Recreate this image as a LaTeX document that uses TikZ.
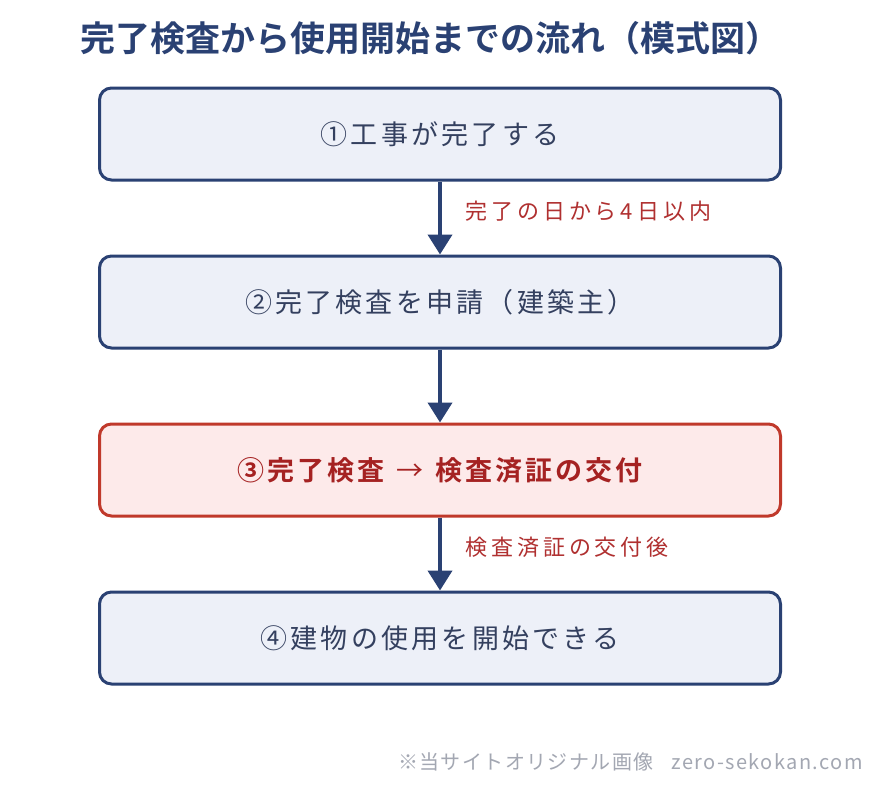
\documentclass[tikz,border=0pt]{standalone}
\usepackage{fontspec}
\setmainfont{Noto Sans CJK JP}
\newfontfamily\jpbold{Noto Sans CJK JP Bold}
\usetikzlibrary{arrows.meta}
\definecolor{navy}{HTML}{2A4173}
\definecolor{boxfill}{HTML}{EDF0F8}
\definecolor{boxtext}{HTML}{34405F}
\definecolor{redline}{HTML}{C0392B}
\definecolor{redfill}{HTML}{FDEAEA}
\definecolor{redtext}{HTML}{A52222}
\definecolor{labred}{HTML}{B03030}
\definecolor{footgray}{HTML}{A3A7B2}
\newcommand{\spaced}[1]{\addfontfeatures{LetterSpace=#1}}
\tikzset{
  stepbox/.style={draw=navy, fill=boxfill, line width=3pt, rounded corners=12pt,
    minimum width=681pt, minimum height=92pt, inner sep=0pt,
    text=boxtext, font=\fontsize{27}{31}\selectfont\spaced{12}},
  keybox/.style={stepbox, draw=redline, fill=redfill, text=redtext,
    font=\jpbold\fontsize{27}{31}\selectfont\spaced{11}},
  flow/.style={draw=navy, line width=4pt, -{Triangle[width=24pt,length=20pt]}},
  steplabel/.style={anchor=west, text=labred, font=\fontsize{22}{26}\selectfont\spaced{18}, inner sep=0pt}
}
\begin{document}
\begin{tikzpicture}[x=1pt,y=-1pt]
\useasboundingbox (0,0) rectangle (880,784);
\fill[white] (0,0) rectangle (880,784);
\node[text=navy, font=\jpbold\fontsize{35}{40}\selectfont] (title) at (430,38) {完了検査から使用開始までの流れ（模式図）};
\node[stepbox] (s1) at (440,134) {①工事が完了する};
\node[stepbox] (s2) at (440,302) {②完了検査を申請（建築主）};
\node[keybox]  (s3) at (440,470) {③完了検査\hspace{0.45em}{\fontspec{Noto Sans CJK JP}→}\hspace{0.45em}検査済証の交付};
\node[stepbox] (s4) at (440,638) {④建物の使用を開始できる};
\draw[flow] (s1.south) -- (s2.north);
\draw[flow] (s2.south) -- (s3.north);
\draw[flow] (s3.south) -- (s4.north);
\node[steplabel] (l1) at (465,211) {完了の日から4日以内};
\node[steplabel] (l2) at (465,547) {検査済証の交付後};
\node[anchor=east, text=footgray, font=\fontsize{20}{24}\selectfont\spaced{7}, inner sep=0pt] (foot) at (863,762) {※当サイトオリジナル画像\hspace{0.9em}zero-sekokan.com};
\end{tikzpicture}
\end{document}
